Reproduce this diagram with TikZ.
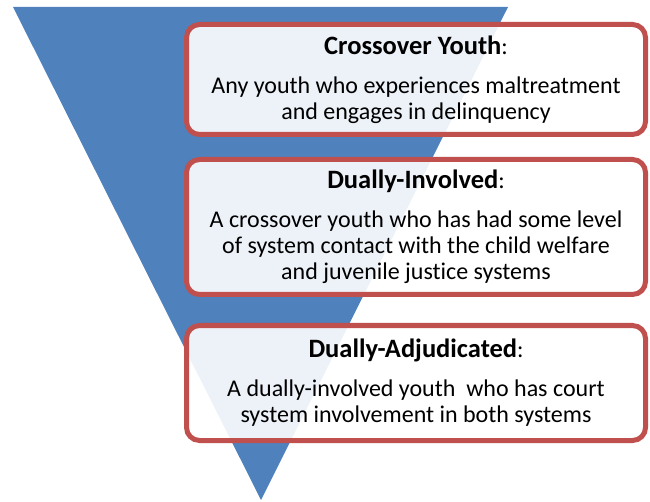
\documentclass[tikz,border=0pt]{standalone}
\usepackage{fontspec}
\setmainfont[Ligatures=NoCommon]{Carlito}
\usetikzlibrary{positioning}
\definecolor{funnelblue}{HTML}{4F81BD}
\definecolor{boxred}{HTML}{C0504D}
\newcommand{\deftitle}[1]{{\fontsize{26.5}{26}\selectfont\bfseries #1}:\\[13pt]}
\tikzset{
	defbox/.style={draw=boxred, line width=5pt, rounded corners=13pt, fill=white, fill opacity=.9, text opacity=1,
		minimum width=459pt, align=center, inner sep=0pt, font=\fontsize{24}{26}\selectfont},
}
\begin{document}
\begin{tikzpicture}[x=1pt,y=-1pt]
	\useasboundingbox (0,0) rectangle (650,502);
	% funnel
	\fill [funnelblue] (13,7) coordinate (tl) -- (508,7) coordinate (tr) -- (261,500) coordinate (tip) -- cycle;
	% definitions
	\node [defbox, minimum height=110pt] (cross) at (416,79.5) {\deftitle{Crossover Youth}
		Any youth who experiences maltreatment\\ and engages in delinquency};
	\node [defbox, minimum height=135pt] (dual) at (416,227) {\deftitle{Dually-Involved}
		A crossover youth who has had some level\\ of system contact with the child welfare\\ and juvenile justice systems};
	\node [defbox, minimum height=115pt] (adj) at (416,383) {\deftitle{Dually-Adjudicated}
		A dually-involved youth\ \ who has court\\ system involvement in both systems};
\end{tikzpicture}
\end{document}
